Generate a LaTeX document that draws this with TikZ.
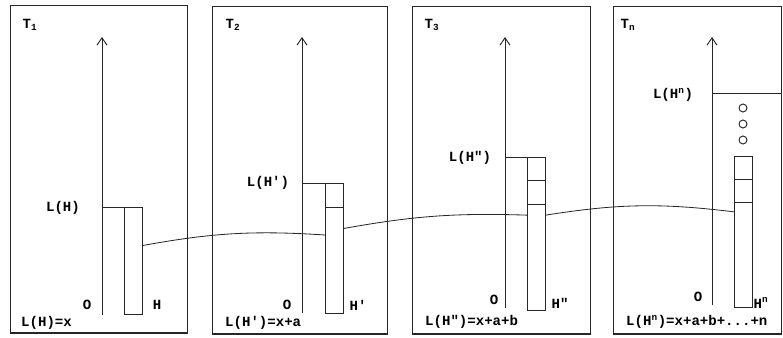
\documentclass[tikz,border=0pt]{standalone}
\usepackage{fontspec}
\setmonofont{Liberation Mono}
\usepackage{tikz}
\usetikzlibrary{arrows.meta, positioning, calc}

\begin{document}
\begin{tikzpicture}[
    x=0.03cm, y=-0.03cm,
    panel/.style={rectangle, draw=black!85, line width=1pt, anchor=north west, inner sep=0pt, minimum height=9.82cm},
    bar/.style={rectangle, draw=black!85, line width=0.8pt, minimum width=0.56cm, anchor=south west, inner sep=0pt, outer sep=0pt},
    lbl/.style={font=\ttfamily\bfseries\fontsize{12}{13}\selectfont, inner sep=0pt},
    axis/.style={-{Straight Barb[length=0.22cm,width=0.3cm]}, line width=0.8pt, draw=black!85},
    level/.style={line width=0.8pt, draw=black!85},
    link/.style={line width=0.7pt, draw=black!85}
]
\useasboundingbox (0,0) rectangle (783,338);

% Panels
\node[panel, minimum width=5.31cm] (p1) at (10,5) {};
\node[panel, minimum width=5.25cm] (p2) at (212,6) {};
\node[panel, minimum width=5.34cm] (p3) at (412,6) {};
\node[panel, minimum width=5.04cm] (p4) at (613,6) {};

% Axes
\coordinate (o1) at (102,315); \coordinate (top1) at (102,37);
\coordinate (o2) at (302,313); \coordinate (top2) at (302,37);
\coordinate (o3) at (505,308); \coordinate (top3) at (505,37);
\coordinate (o4) at (712,305); \coordinate (top4) at (712,37);
\draw[axis] (o1) -- (top1);
\draw[axis] (o2) -- (top2);
\draw[axis] (o3) -- (top3);
\draw[axis] (o4) -- (top4);

% Bars
\node[bar, minimum height=3.21cm] (b1) at (124,314) {};
\node[bar, minimum height=3.90cm] (b2) at (325,313) {};
\node[bar, minimum height=4.59cm] (b3) at (527,310) {};
\node[bar, minimum height=4.53cm] (b4) at (734,307) {};
\draw[level] (b2.west |- 0,207) -- (b2.east |- 0,207);
\draw[level] (b3.west |- 0,180) -- (b3.east |- 0,180);
\draw[level] (b3.west |- 0,204) -- (b3.east |- 0,204);
\draw[level] (b4.west |- 0,179) -- (b4.east |- 0,179);
\draw[level] (b4.west |- 0,202) -- (b4.east |- 0,202);

% Levels
\draw[level] (b1.north west) -- (b1.north west -| o1);
\draw[level] (b2.north west) -- (b2.north west -| o2);
\draw[level] (b3.north west) -- (b3.north west -| o3);
\coordinate (lv4) at (o4 |- 0,93);
\draw[level] (lv4) -- (lv4 -| p4.east);

% Dots
\foreach \y in {108,124,140}
  \draw[level] (743,\y) circle (0.12cm);

% Link
\draw[link] ($(b1.north east)!0.36!(b1.south east)$) to[bend left=7] ($(b2.north west)!0.40!(b2.south west)$);
\draw[link] ($(b2.north east)!0.35!(b2.south east)$) to[bend left=6] ($(b3.north west)!0.38!(b3.south west)$);
\draw[link] ($(b3.north east)!0.38!(b3.south east)$) to[bend left=8] ($(b4.north west)!0.37!(b4.south west)$);

% Labels
\node[lbl] (t1) at (30,25) {T\textsubscript{1}};
\node[lbl] (t2) at (233,25) {T\textsubscript{2}};
\node[lbl] (t3) at (432,25) {T\textsubscript{3}};
\node[lbl] (t4) at (628,25) {T\textsubscript{n}};

\node[lbl] (lh1) at (63,208) {L(H)};
\node[lbl] (lh2) at (268,183) {L(H')};
\node[lbl] (lh3) at (470,158) {L(H")};
\node[lbl] (lh4) at (673,95) {L(H\textsuperscript{n})};

\node[lbl] (z1) at (87,305) {O};
\node[lbl] (z2) at (287,305) {O};
\node[lbl] (z3) at (494,300) {O};
\node[lbl] (z4) at (698,297) {O};

\node[lbl] (h1) at (157,305) {H};
\node[lbl] (h2) at (358,305) {H'};
\node[lbl] (h3) at (560,303) {H"};
\node[lbl] (h4) at (761,303) {H\textsuperscript{n}};

\node[lbl, anchor=west] (e1) at (21,323) {L(H)=x};
\node[lbl, anchor=west] (e2) at (225,323) {L(H')=x+a};
\node[lbl, anchor=west] (e3) at (425,322) {L(H")=x+a+b};
\node[lbl, anchor=west] (e4) at (626,322) {L(H\textsuperscript{n})=x+a+b+...+n};

\end{tikzpicture}
\end{document}
